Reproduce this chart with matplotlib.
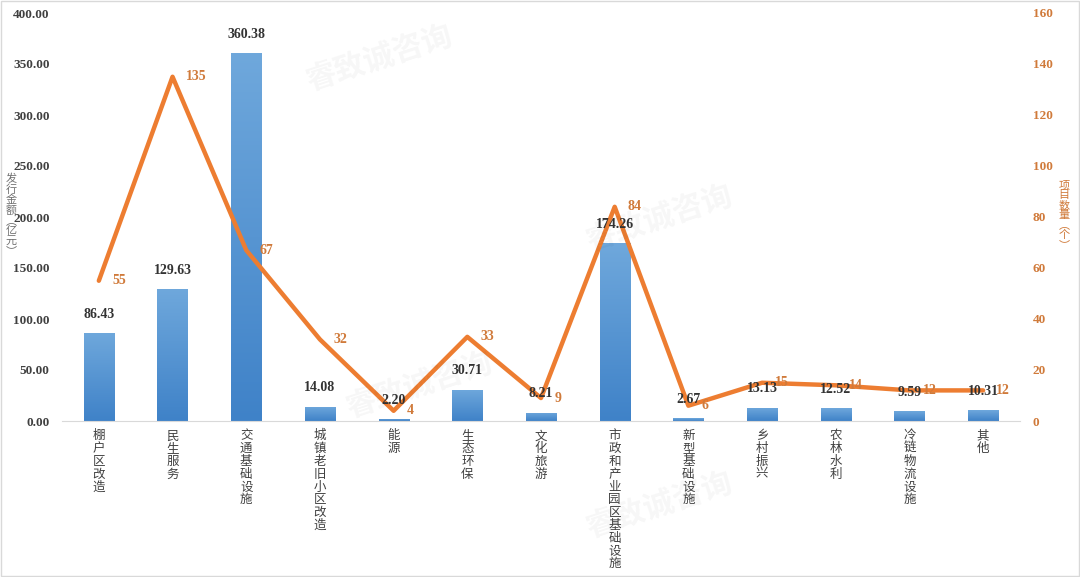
import matplotlib
matplotlib.use("Agg")
import matplotlib.pyplot as plt
import numpy as np
from matplotlib.colors import LinearSegmentedColormap

plt.rcParams['font.family'] = ['Liberation Serif', 'Noto Sans CJK SC', 'DejaVu Sans']

categories = ["棚户区改造", "民生服务", "交通基础设施", "城镇老旧小区改造", "能源", "生态环保",
              "文化旅游", "市政和产业园区基础设施", "新型基础设施", "乡村振兴", "农林水利",
              "冷链物流设施", "其他"]
amounts = [86.43, 129.63, 360.38, 14.08, 2.20, 30.71, 8.21, 174.26, 2.67, 13.13, 12.52, 9.59, 10.31]
counts = [55, 135, 67, 32, 4, 33, 9, 84, 6, 15, 14, 12, 12]
left_ticks = [0, 50, 100, 150, 200, 250, 300, 350, 400]
right_ticks = [0, 20, 40, 60, 80, 100, 120, 140, 160]

BAR_TOP = "#6FA8DC"
BAR_BOT = "#3F82C8"
LINE = "#ED7D31"
DARK = "#404040"
ORANGE_TXT = "#D07A3A"

fig = plt.figure(figsize=(10.8, 5.77), dpi=100)
ax = fig.add_axes([62 / 1080, 1 - 421 / 577, (1020 - 62) / 1080, (421 - 13) / 577])
ax2 = ax.twinx()

x = np.arange(len(categories))
bars = ax.bar(x, amounts, width=0.41, color=BAR_BOT, zorder=2)

# vertical gradient fill for each bar
grad = np.linspace(0, 1, 256).reshape(-1, 1)
cmap = LinearSegmentedColormap.from_list("bar", [BAR_BOT, BAR_TOP])
for b in bars:
    x0, y0 = b.get_x(), b.get_y()
    w, h = b.get_width(), b.get_height()
    im = ax.imshow(grad, cmap=cmap, aspect="auto", origin="lower",
                   extent=[x0, x0 + w, y0, y0 + h], zorder=2)
    im.set_clip_path(b)
    b.set_facecolor("none")

ax.set_xlim(-0.5, len(categories) - 0.5)
ax.set_ylim(0, 400)
ax.set_yticks(left_ticks)
ax.set_yticklabels([f"{v:.2f}" for v in left_ticks], fontsize=9.5, fontweight="bold", color=DARK)
ax.tick_params(axis="y", length=0, pad=9)
ax.set_xticks(x)
ax.set_xticklabels(["\n".join(c) for c in categories], fontsize=9, color=DARK,
                   family=['Noto Sans CJK SC'], linespacing=0.98, va="top")
ax.tick_params(axis="x", length=0, pad=6)

ax2.plot(x, counts, color=LINE, lw=3.2, solid_capstyle="round", solid_joinstyle="round", zorder=4)
ax2.set_ylim(0, 160)
ax2.set_yticks(right_ticks)
ax2.set_yticklabels([str(v) for v in right_ticks], fontsize=9.5, fontweight="bold", color=ORANGE_TXT)
ax2.tick_params(axis="y", length=0, pad=9)

# amount labels sit above the line, positioned in the bar axis coordinates
for v, xi in zip(amounts, x):
    ax2.text(xi, v + 12, f"{v:.2f}", transform=ax.transData, ha="center", va="bottom",
             fontsize=10, fontweight="bold", color="#333333", zorder=6)
for v, xi in zip(counts, x):
    ax2.text(xi + 0.18, v, str(v), ha="left", va="center", fontsize=10,
             fontweight="bold", color=ORANGE_TXT, zorder=5)

for a in (ax, ax2):
    for s in ("top", "left", "right"):
        a.spines[s].set_visible(False)
    a.spines["bottom"].set_color("#D9D9D9")
    a.set_facecolor("none")
ax2.spines["bottom"].set_visible(False)

fig.text(11 / 1080, 1 - 215 / 577, "\n".join("发行金额︵亿元︶"), ha="center", va="center",
         fontsize=8, color="#707070", family=['Noto Sans CJK SC'], linespacing=1.0)
fig.text(1064 / 1080, 1 - 215 / 577, "\n".join("项目数量︵个︶"), ha="center", va="center",
         fontsize=8, color=ORANGE_TXT, family=['Noto Sans CJK SC'], linespacing=1.0)

# faint watermarks
for wx, wy in [(380, 58), (660, 218), (420, 385), (660, 505)]:
    fig.text(wx / 1080, 1 - wy / 577, "睿致诚咨询", fontsize=22, fontweight="bold",
             color="#000000", alpha=0.035, rotation=18, ha="center", va="center",
             family=['Noto Sans CJK SC'])

# outer frame
fig.patches.append(plt.Rectangle((0.001, 0.001), 0.998, 0.998, transform=fig.transFigure,
                                 fill=False, edgecolor="#D9D9D9", lw=1))

fig.savefig("out.png", dpi=100)
